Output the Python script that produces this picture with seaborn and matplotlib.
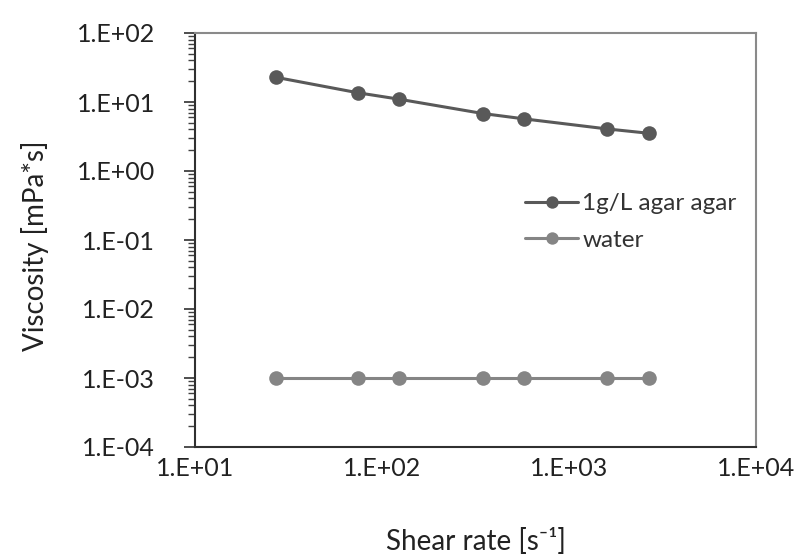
import matplotlib
matplotlib.use("Agg")
import matplotlib.pyplot as plt
import matplotlib.ticker as mticker
import seaborn as sns
import pandas as pd

shear_rate = [27.1, 74.4, 123, 347, 574, 1600, 2680]
agar = [22.8, 13.6, 11.0, 6.8, 5.7, 4.07, 3.52]
water = [1.0e-3, 1.0e-3, 1.0e-3, 1.0e-3, 1.0e-3, 1.0e-3, 1.0e-3]
series_names = ["1g/L agar agar", "water"]
x_ticks = [1e1, 1e2, 1e3, 1e4]
y_ticks = [1e-4, 1e-3, 1e-2, 1e-1, 1e0, 1e1, 1e2]
x_tick_labels = ["1.E+01", "1.E+02", "1.E+03", "1.E+04"]
y_tick_labels = ["1.E-04", "1.E-03", "1.E-02", "1.E-01", "1.E+00", "1.E+01", "1.E+02"]

df = pd.DataFrame({
    "x": shear_rate * 2,
    "y": agar + water,
    "series": [series_names[0]] * len(shear_rate) + [series_names[1]] * len(shear_rate),
})

sns.set_style("white")
plt.rcParams['font.family'] = ['Lato', 'DejaVu Sans']

fig = plt.figure(figsize=(8.01, 5.54), dpi=100)
ax = fig.add_axes([195/801, 1-447/554, (756-195)/801, (447-33)/554])

palette = {series_names[0]: "#595959", series_names[1]: "#858585"}
sns.lineplot(data=df, x="x", y="y", hue="series", palette=palette, marker="o",
             markersize=10.5, markeredgewidth=0, linewidth=2.2, ax=ax, sort=False)

ax.set_xscale("log")
ax.set_yscale("log")
ax.set_xlim(1e1, 1e4)
ax.set_ylim(1e-4, 1e2)
ax.set_xticks(x_ticks)
ax.set_xticklabels(x_tick_labels)
ax.set_yticks(y_ticks)
ax.set_yticklabels(y_tick_labels)
ax.xaxis.set_minor_locator(mticker.NullLocator())
ax.yaxis.set_minor_locator(mticker.LogLocator(base=10, subs=range(2, 10), numticks=20))
ax.yaxis.set_minor_formatter(mticker.NullFormatter())

txt = "#222222"
ax.tick_params(axis="x", which="both", length=0, pad=7.5, labelsize=18, labelcolor=txt)
ax.tick_params(axis="y", which="major", direction="out", length=8, width=1.2, pad=21,
               labelsize=18, left=True, labelcolor=txt, color="#303030")
ax.tick_params(axis="y", which="minor", direction="out", length=5, width=1.0, left=True,
               color="#404040")

for side in ["left", "bottom"]:
    ax.spines[side].set_color("#303030")
    ax.spines[side].set_linewidth(1.5)
for side in ["top", "right"]:
    ax.spines[side].set_color("#8a8a8a")
    ax.spines[side].set_linewidth(1.5)

ax.set_xlabel("Shear rate [s⁻¹]", fontsize=20, color=txt, va="center")
ax.set_ylabel("Viscosity [mPa*s]", fontsize=20, color=txt, va="center")
ax.xaxis.set_label_coords((476-195)/561, (447-541)/414)
ax.yaxis.set_label_coords((35-195)/561, 1-(246-33)/414)

leg = ax.legend(loc="upper left", bbox_to_anchor=((525-195)/561, 1-(193-33)/414),
                frameon=False, fontsize=17.5, handlelength=2.2, handletextpad=0.15,
                labelspacing=0.65, borderaxespad=0, borderpad=0, markerscale=0.85)
for t in leg.get_texts():
    t.set_color("#333333")

fig.savefig("out.png", dpi=100)
